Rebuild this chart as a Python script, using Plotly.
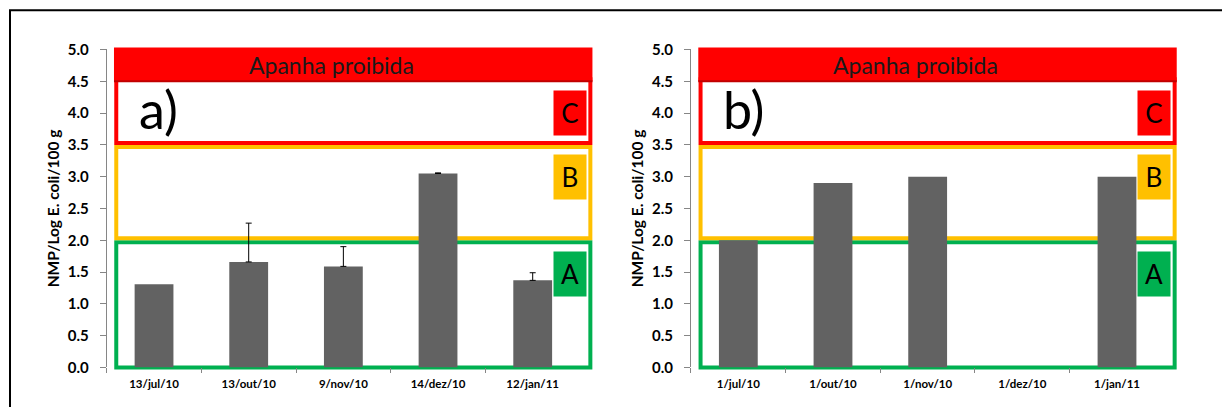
import plotly.graph_objects as go

# ---------------- data ----------------
DATES_A = ["13/jul/10", "13/out/10", "9/nov/10", "14/dez/10", "12/jan/11"]
VALUES_A = [1.31, 1.66, 1.59, 3.05, 1.37]
ERR_PLUS_A = [None, 0.61, 0.31, 0.01, 0.12]

DATES_B = ["1/jul/10", "1/out/10", "1/nov/10", "1/dez/10", "1/jan/11"]
VALUES_B = [2.0, 2.9, 3.0, None, 3.0]

Y_TICKS = [0.0, 0.5, 1.0, 1.5, 2.0, 2.5, 3.0, 3.5, 4.0, 4.5, 5.0]
Y_RANGE = [0.0, 5.0]
ZONE_LIMITS = [0.0, 2.0, 3.5, 4.5, 5.0]          # A | B | C | Apanha proibida
ZONE_LETTERS = ["A", "B", "C"]
ZONE_LETTER_Y = [1.47, 3.0, 4.0]
ZONE_COLORS = ["#00B050", "#FFC000", "#FF0000"]
BAND_TEXT = "Apanha proibida"
BAND_TEXT_Y = 4.76
PANEL_LABELS = ["a)", "b)"]
PANEL_LABEL_Y = 4.07
Y_TITLE = "NMP/Log E. coli/100 g"

# ---------------- layout constants ----------------
FIG_W, FIG_H = 1214, 399
PLOT_H = 318.0
DOM_A = [0.0813, 0.4712]
DOM_B = [0.5626, 0.9525]
DOM_Y = [0.099, 0.896]
FONT = "Lato"
BAR_COLOR = "#626262"
AXIS_COLOR = "#868686"
LINE_W = 4
INSET = 2.0 / PLOT_H
BOX_X = [0.0202, 1.0218]
BAND_X = [0.0154, 1.0262]


def frac(v):
    return (v - Y_RANGE[0]) / (Y_RANGE[1] - Y_RANGE[0])


fig = go.Figure()

fig.add_trace(go.Bar(
    x=DATES_A, y=VALUES_A, width=0.41, marker=dict(color=BAR_COLOR, line=dict(width=0)),
    xaxis="x", yaxis="y", showlegend=False, hoverinfo="x+y",
))
err_idx = [i for i, e in enumerate(ERR_PLUS_A) if e is not None]
fig.add_trace(go.Scatter(
    x=[DATES_A[i] for i in err_idx], y=[VALUES_A[i] for i in err_idx],
    mode="markers", marker=dict(size=1, opacity=0),
    error_y=dict(type="data", array=[ERR_PLUS_A[i] for i in err_idx],
                 arrayminus=[0 for _ in err_idx], symmetric=False,
                 color="black", thickness=1, width=3),
    xaxis="x", yaxis="y", showlegend=False, hoverinfo="skip",
))
fig.add_trace(go.Bar(
    x=DATES_B, y=VALUES_B, width=0.41, marker=dict(color=BAR_COLOR, line=dict(width=0)),
    xaxis="x2", yaxis="y2", showlegend=False, hoverinfo="x+y",
))

shapes = []
annotations = []
for xr, yr, label in [("x", "y", PANEL_LABELS[0]), ("x2", "y2", PANEL_LABELS[1])]:
    xd, yd = xr + " domain", yr + " domain"
    shapes.append(dict(type="rect", xref=xd, yref=yd, layer="below",
                       x0=BOX_X[0], x1=BOX_X[1],
                       y0=frac(ZONE_LIMITS[0]), y1=frac(ZONE_LIMITS[1]) - INSET,
                       line=dict(color=ZONE_COLORS[0], width=LINE_W), fillcolor="rgba(0,0,0,0)"))
    shapes.append(dict(type="rect", xref=xd, yref=yd, layer="below",
                       x0=BOX_X[0], x1=BOX_X[1],
                       y0=frac(ZONE_LIMITS[1]) + INSET, y1=frac(ZONE_LIMITS[2]) - INSET,
                       line=dict(color=ZONE_COLORS[1], width=LINE_W), fillcolor="rgba(0,0,0,0)"))
    shapes.append(dict(type="rect", xref=xd, yref=yd, layer="below",
                       x0=BOX_X[0], x1=BOX_X[1],
                       y0=frac(ZONE_LIMITS[2]) + INSET, y1=frac(ZONE_LIMITS[3]) + INSET,
                       line=dict(color=ZONE_COLORS[2], width=LINE_W), fillcolor="rgba(0,0,0,0)"))
    shapes.append(dict(type="rect", xref=xd, yref=yd, layer="below",
                       x0=BAND_X[0], x1=BAND_X[1],
                       y0=frac(ZONE_LIMITS[3]), y1=frac(ZONE_LIMITS[4]) + INSET,
                       line=dict(width=0), fillcolor="#FF0000"))
    shapes.append(dict(type="line", xref=xd, yref=yd, layer="below",
                       x0=BAND_X[0], x1=BAND_X[1],
                       y0=frac(ZONE_LIMITS[3]), y1=frac(ZONE_LIMITS[3]),
                       line=dict(color="#C00000", width=2)))

    annotations.append(dict(xref=xd, yref=yr, x=0.475, y=BAND_TEXT_Y, text=BAND_TEXT,
                            showarrow=False, xanchor="center", yanchor="middle",
                            font=dict(family=FONT, size=23, color="#1A1A1A")))
    annotations.append(dict(xref=xd, yref=yr, x=0.064, y=PANEL_LABEL_Y, text=label,
                            showarrow=False, xanchor="left", yanchor="middle",
                            font=dict(family=FONT, size=52, color="black")))
    for letter, ly, col in zip(ZONE_LETTERS, ZONE_LETTER_Y, ZONE_COLORS):
        annotations.append(dict(xref=xd, yref=yr, x=0.978, y=ly, text=letter,
                                showarrow=False, xanchor="center", yanchor="middle",
                                width=32, height=44, bgcolor=col, borderpad=0,
                                align="center", valign="middle",
                                font=dict(family=FONT, size=26, color="black")))

# outer black frame
shapes.append(dict(type="rect", xref="paper", yref="paper", layer="above",
                   x0=2.0 / FIG_W, x1=1.05, y0=-0.05, y1=1.0 - 2.3 / FIG_H,
                   line=dict(color="black", width=2), fillcolor="rgba(0,0,0,0)"))

xaxis_common = dict(type="category", range=[-0.5, 4.5], showline=False, showgrid=False,
                    zeroline=False, automargin=False, ticks="outside", tickson="boundaries",
                    ticklen=5, tickcolor=AXIS_COLOR, tickwidth=1, ticklabelstandoff=8,
                    tickfont=dict(family=FONT, size=11.5, color="black", weight="bold"))
yaxis_common = dict(range=Y_RANGE, tickvals=Y_TICKS, tickformat=".1f", showline=True,
                    linecolor=AXIS_COLOR, linewidth=1, showgrid=False, zeroline=False,
                    automargin=False, ticks="outside", ticklen=6, tickcolor=AXIS_COLOR,
                    tickwidth=1, ticklabelstandoff=8,
                    tickfont=dict(family=FONT, size=15, color="black", weight="bold"),
                    title=dict(text=Y_TITLE, standoff=4,
                               font=dict(family=FONT, size=15.5, color="black", weight="bold")))

fig.update_layout(
    width=FIG_W, height=FIG_H,
    margin=dict(l=0, r=0, t=0, b=0, autoexpand=False),
    paper_bgcolor="white", plot_bgcolor="white",
    bargap=0.59,
    xaxis=dict(domain=DOM_A, anchor="y", **xaxis_common),
    yaxis=dict(domain=DOM_Y, anchor="x", **yaxis_common),
    xaxis2=dict(domain=DOM_B, anchor="y2", **xaxis_common),
    yaxis2=dict(domain=DOM_Y, anchor="x2", **yaxis_common),
    shapes=shapes,
    annotations=annotations,
    font=dict(family=FONT),
)

fig.write_html("out.html")
